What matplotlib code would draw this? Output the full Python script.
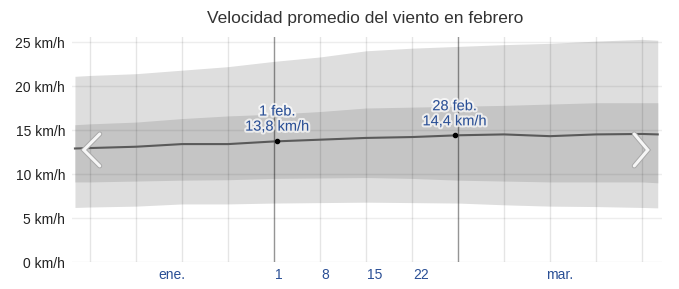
import matplotlib
matplotlib.use('Agg')
import matplotlib.pyplot as plt
import matplotlib.transforms as mtransforms
import matplotlib.patheffects as pe

plt.rcParams['font.family'] = ['Liberation Sans', 'DejaVu Sans']

# days counted from 1 feb (day start = 0)
days = [-30.3, -28, -21, -14, -7, 0, 7, 14, 21, 28, 35, 42, 49, 56, 58.4]
p90 = [21.1, 21.2, 21.4, 21.8, 22.2, 22.8, 23.3, 24.0, 24.3, 24.5, 24.7, 24.85, 25.1, 25.3, 25.2]
p75 = [15.6, 15.7, 15.9, 16.3, 16.6, 16.8, 17.1, 17.5, 17.6, 17.7, 17.8, 17.95, 18.1, 18.1, 18.1]
avg = [12.9, 12.95, 13.1, 13.4, 13.4, 13.7, 13.9, 14.1, 14.2, 14.4, 14.5, 14.3, 14.5, 14.55, 14.5]
p25 = [9.1, 9.1, 9.2, 9.3, 9.35, 9.5, 9.55, 9.6, 9.5, 9.3, 9.2, 9.1, 9.1, 9.1, 9.0]
p10 = [6.2, 6.25, 6.35, 6.6, 6.6, 6.7, 6.75, 6.8, 6.75, 6.7, 6.5, 6.35, 6.3, 6.2, 6.15]

mark_x = [0.5, 27.5]
mark_y = [13.8, 14.4]
mark_lbl = ['1 feb.\n13,8 km/h', '28 feb.\n14,4 km/h']

week_ticks = [0, 7, 14, 21]
week_lbls = ['1', '8', '15', '22']
month_x = [-15.5, 43.5]
month_lbls = ['ene.', 'mar.']
yticks = [0, 5, 10, 15, 20, 25]

blue = '#2a4f95'

fig = plt.figure(figsize=(6.79, 2.89), dpi=100)
ax = fig.add_axes([72/679, 27/289, 590/679, 225/289])
ax.set_xlim(-30.75, 59.05)
ax.set_ylim(0, 25.57)

ax.fill_between(days, p10, p90, color='#dedede', lw=0, zorder=1)
ax.fill_between(days, p25, p75, color='#c5c5c5', lw=0, zorder=2)
ax.plot(days, avg, color='#5a5a5a', lw=1.5, zorder=4)

# grid
for d in range(-28, 57, 7):
    ax.axvline(d, color='black', alpha=0.1, lw=1, zorder=3)
for d in [0, 28]:
    ax.axvline(d, color='black', alpha=0.35, lw=1, zorder=3)
for y in yticks:
    ax.axhline(y, color='black', alpha=0.07, lw=1, zorder=3)

ax.scatter(mark_x, mark_y, s=9, color='black', zorder=5)
for x, y, t in zip(mark_x, mark_y, mark_lbl):
    ax.annotate(t, (x, y), xytext=(0, 5), textcoords='offset points', ha='center', va='bottom',
                fontsize=10.5, color=blue, linespacing=1.1, zorder=6,
                path_effects=[pe.withStroke(linewidth=3, foreground='white', alpha=0.7)])

for s in ax.spines.values():
    s.set_visible(False)
ax.set_xticks([])
ax.set_yticks(yticks)
ax.set_yticklabels([f'{y} km/h' for y in yticks], fontsize=10, color='#222222')
ax.tick_params(axis='y', length=0, pad=5)

tr = mtransforms.blended_transform_factory(ax.transData, ax.transAxes)
for d, t in zip(week_ticks, week_lbls):
    ax.text(d + 0.2, -0.025, t, transform=tr, ha='left', va='top', fontsize=10, color=blue)
for d, t in zip(month_x, month_lbls):
    ax.text(d, -0.025, t, transform=tr, ha='center', va='top', fontsize=10, color=blue)

# navigation chevrons
for xs in ([0.047, 0.020, 0.047], [0.953, 0.976, 0.953]):
    ys = [0.569, 0.498, 0.427]
    ax.plot(xs, ys, transform=ax.transAxes, color='#a8a8a8', lw=3.6, solid_capstyle='round',
            solid_joinstyle='miter', zorder=7, clip_on=False)
    ax.plot(xs, ys, transform=ax.transAxes, color='#f6f6f6', lw=2.2, solid_capstyle='round',
            solid_joinstyle='miter', zorder=8, clip_on=False)

fig.text(365/679, 1 - 18/289, 'Velocidad promedio del viento en febrero', ha='center', va='center',
         fontsize=12.5, color='#333333')

fig.savefig('out.png', dpi=100)
